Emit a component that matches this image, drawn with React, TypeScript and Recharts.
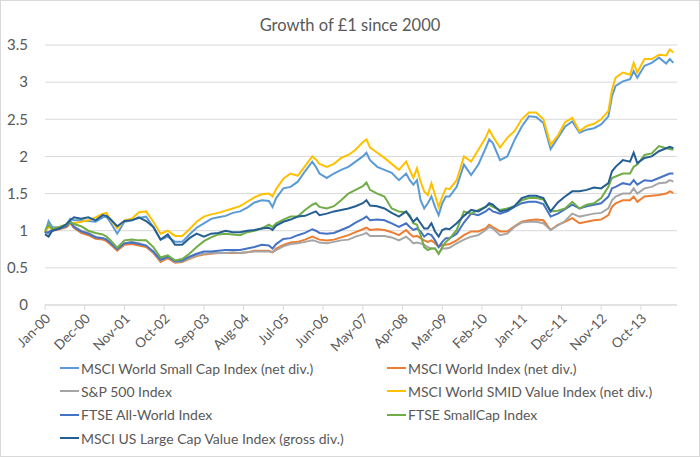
import React from 'react';
import { LineChart, Line, XAxis, YAxis, CartesianGrid } from 'recharts';

// month index since Jan-00 (mostly every 2nd month, plus a few turning points)
const months = [
  0, 1, 2, 4, 6, 7, 8, 10, 12, 14,
  16, 17, 18, 20, 22, 24, 26, 28, 30, 32,
  34, 36, 38, 40, 42, 44, 46, 48, 50, 52,
  54, 56, 58, 60, 62, 63, 64, 66, 68, 70,
  72, 74, 75, 76, 78, 80, 82, 84, 86, 88,
  89, 90, 92, 94, 96, 98, 100, 101, 102, 103,
  104, 105, 106, 107, 108, 109, 110, 111, 112, 114,
  116, 118, 120, 122, 123, 124, 126, 128, 130, 132,
  134, 136, 138, 140, 142, 144, 146, 148, 150, 152,
  154, 156, 157, 158, 160, 162, 163, 164, 166, 168,
  170, 172, 173, 174,
];

const smallCap = [
  0.97, 1.13, 1.05, 1.04, 1.09, 1.16, 1.14, 1.14, 1.13, 1.12,
  1.18, 1.19, 1.12, 0.96, 1.12, 1.14, 1.17, 1.19, 1.05, 0.88,
  0.92, 0.85, 0.85, 0.95, 1.04, 1.1, 1.16, 1.18, 1.2, 1.24,
  1.26, 1.31, 1.38, 1.41, 1.4, 1.32, 1.44, 1.57, 1.59, 1.66,
  1.8, 1.93, 1.86, 1.77, 1.71, 1.77, 1.82, 1.86, 1.93, 2.0,
  2.05, 1.95, 1.86, 1.82, 1.78, 1.68, 1.77, 1.68, 1.62, 1.68,
  1.41, 1.3, 1.37, 1.46, 1.32, 1.21, 1.37, 1.46, 1.46, 1.59,
  1.89, 1.75, 1.89, 2.11, 2.23, 2.18, 1.95, 2.0, 2.22, 2.4,
  2.54, 2.53, 2.45, 2.1, 2.25, 2.4, 2.47, 2.32, 2.36, 2.38,
  2.43, 2.54, 2.81, 2.95, 3.01, 3.04, 3.15, 3.06, 3.22, 3.26,
  3.33, 3.25, 3.31, 3.26,
];

const world = [
  0.97, 0.97, 1.0, 1.02, 1.05, 1.1, 1.04, 0.97, 0.94, 0.89,
  0.88, 0.86, 0.82, 0.73, 0.81, 0.82, 0.8, 0.78, 0.7, 0.58,
  0.63, 0.57, 0.58, 0.62, 0.66, 0.68, 0.69, 0.7, 0.7, 0.7,
  0.7, 0.71, 0.73, 0.73, 0.73, 0.71, 0.76, 0.81, 0.84, 0.85,
  0.88, 0.92, 0.9, 0.88, 0.87, 0.88, 0.91, 0.94, 0.98, 1.02,
  1.04, 1.01, 1.02, 1.01, 0.98, 0.94, 1.01, 0.96, 0.92, 0.93,
  0.9, 0.87, 0.85, 0.87, 0.83, 0.78, 0.81, 0.81, 0.82, 0.87,
  0.94, 0.99, 0.99, 1.03, 1.08, 1.05, 0.99, 0.99, 1.06, 1.12,
  1.14, 1.15, 1.14, 1.01, 1.08, 1.12, 1.17, 1.1, 1.12, 1.14,
  1.15, 1.21, 1.32, 1.37, 1.41, 1.41, 1.46, 1.39, 1.46, 1.47,
  1.48, 1.5, 1.53, 1.51,
];

const sp500 = [
  0.97, 0.96, 1.0, 1.03, 1.06, 1.12, 1.06, 1.0, 0.97, 0.92,
  0.9, 0.88, 0.84, 0.75, 0.83, 0.85, 0.83, 0.8, 0.71, 0.6,
  0.65, 0.58, 0.59, 0.63, 0.67, 0.69, 0.7, 0.7, 0.7, 0.71,
  0.7, 0.71, 0.72, 0.72, 0.72, 0.71, 0.74, 0.79, 0.82, 0.83,
  0.85, 0.87, 0.86, 0.84, 0.83, 0.85, 0.87, 0.88, 0.92, 0.95,
  0.97, 0.93, 0.93, 0.93, 0.91, 0.87, 0.92, 0.88, 0.83, 0.84,
  0.83, 0.81, 0.78, 0.76, 0.76, 0.69, 0.76, 0.76, 0.77, 0.83,
  0.88, 0.92, 0.94, 1.01, 1.05, 1.03, 0.94, 0.96, 1.05, 1.11,
  1.12, 1.12, 1.1, 1.01, 1.07, 1.13, 1.23, 1.19, 1.21, 1.23,
  1.24, 1.3, 1.41, 1.46, 1.5, 1.5, 1.57, 1.5, 1.57, 1.59,
  1.64, 1.65, 1.68, 1.66,
];

const smidValue = [
  0.98, 1.05, 1.02, 1.05, 1.08, 1.1, 1.1, 1.12, 1.14, 1.18,
  1.23, 1.24, 1.16, 1.03, 1.14, 1.16, 1.25, 1.26, 1.12, 0.96,
  1.0, 0.93, 0.93, 1.02, 1.12, 1.19, 1.22, 1.24, 1.27, 1.3,
  1.33, 1.39, 1.45, 1.49, 1.5, 1.46, 1.56, 1.7, 1.77, 1.74,
  1.87, 2.0, 1.96, 1.9, 1.86, 1.9, 1.98, 2.02, 2.09, 2.19,
  2.23, 2.12, 2.05, 1.98, 1.9, 1.82, 1.93, 1.82, 1.71, 1.84,
  1.66, 1.53, 1.48, 1.64, 1.48, 1.32, 1.46, 1.57, 1.56, 1.68,
  2.0, 1.93, 2.09, 2.25, 2.36, 2.27, 2.12, 2.25, 2.34, 2.5,
  2.59, 2.59, 2.5, 2.16, 2.28, 2.46, 2.52, 2.34, 2.41, 2.44,
  2.5, 2.61, 2.9, 3.06, 3.13, 3.1, 3.26, 3.13, 3.31, 3.31,
  3.37, 3.36, 3.44, 3.4,
];

const allWorld = [
  0.98, 0.98, 1.01, 1.03, 1.06, 1.12, 1.05, 0.99, 0.96, 0.91,
  0.9, 0.88, 0.84, 0.75, 0.83, 0.84, 0.82, 0.8, 0.72, 0.61,
  0.65, 0.59, 0.6, 0.65, 0.69, 0.72, 0.72, 0.73, 0.74, 0.74,
  0.74, 0.76, 0.78, 0.81, 0.8, 0.76, 0.82, 0.89, 0.9, 0.94,
  0.97, 1.02, 1.0, 0.97, 0.96, 0.97, 1.01, 1.05, 1.11, 1.16,
  1.19, 1.14, 1.15, 1.14, 1.1, 1.05, 1.1, 1.05, 1.01, 1.03,
  0.99, 0.92, 0.96, 0.94, 0.87, 0.78, 0.85, 0.9, 0.9, 0.96,
  1.11, 1.23, 1.21, 1.26, 1.3, 1.26, 1.23, 1.26, 1.32, 1.37,
  1.39, 1.39, 1.36, 1.19, 1.23, 1.29, 1.35, 1.3, 1.33, 1.35,
  1.37, 1.46, 1.57, 1.59, 1.64, 1.62, 1.68, 1.62, 1.68, 1.67,
  1.71, 1.75, 1.77, 1.77,
];

const ftseSmall = [
  1.0, 1.08, 1.02, 1.05, 1.08, 1.12, 1.09, 1.06, 1.0, 0.97,
  0.95, 0.92, 0.88, 0.77, 0.87, 0.88, 0.87, 0.87, 0.78, 0.64,
  0.67, 0.6, 0.62, 0.69, 0.78, 0.86, 0.91, 0.95, 0.96, 0.95,
  0.94, 0.98, 1.0, 1.03, 1.08, 1.05, 1.1, 1.15, 1.19, 1.19,
  1.28, 1.35, 1.37, 1.32, 1.3, 1.33, 1.41, 1.5, 1.55, 1.6,
  1.65, 1.55, 1.5, 1.46, 1.3, 1.26, 1.25, 1.21, 1.1, 1.08,
  0.94, 0.78, 0.74, 0.76, 0.76, 0.69, 0.78, 0.85, 0.89, 1.01,
  1.26, 1.23, 1.28, 1.32, 1.35, 1.32, 1.28, 1.3, 1.33, 1.41,
  1.44, 1.44, 1.42, 1.26, 1.27, 1.3, 1.39, 1.3, 1.35, 1.37,
  1.44, 1.59, 1.71, 1.73, 1.77, 1.77, 1.86, 1.89, 2.02, 2.04,
  2.14, 2.11, 2.1, 2.09,
];

const usValue = [
  0.95, 0.92, 1.0, 1.03, 1.09, 1.14, 1.18, 1.16, 1.18, 1.14,
  1.21, 1.2, 1.16, 1.06, 1.13, 1.14, 1.18, 1.13, 1.05, 0.88,
  0.95, 0.81, 0.81, 0.9, 0.96, 0.92, 0.96, 0.97, 1.0, 0.98,
  0.98, 1.0, 1.01, 1.03, 1.04, 1.01, 1.07, 1.12, 1.15, 1.19,
  1.2, 1.24, 1.26, 1.21, 1.23, 1.26, 1.28, 1.3, 1.33, 1.37,
  1.41, 1.34, 1.33, 1.3, 1.24, 1.19, 1.26, 1.19, 1.12, 1.17,
  1.1, 1.03, 1.03, 1.1, 0.99, 0.92, 1.01, 1.03, 1.02, 1.1,
  1.2, 1.28, 1.26, 1.32, 1.37, 1.35, 1.26, 1.28, 1.33, 1.44,
  1.47, 1.47, 1.44, 1.26, 1.38, 1.46, 1.53, 1.53, 1.55, 1.58,
  1.57, 1.64, 1.8, 1.86, 1.95, 1.93, 2.05, 1.91, 1.98, 2.0,
  2.07, 2.11, 2.13, 2.11,
];

const tickMonths = [0, 11, 22, 33, 44, 55, 66, 77, 88, 99, 110, 121, 132, 143, 154, 165];
const tickLabels = [
  'Jan-00', 'Dec-00', 'Nov-01', 'Oct-02', 'Sep-03', 'Aug-04', 'Jul-05', 'Jun-06',
  'May-07', 'Apr-08', 'Mar-09', 'Feb-10', 'Jan-11', 'Dec-11', 'Nov-12', 'Oct-13',
];
const yTicks = [0, 0.5, 1, 1.5, 2, 2.5, 3, 3.5];

const series = [
  { key: 'smallCap', name: 'MSCI World Small Cap Index (net div.)', color: '#5B9BD5', values: smallCap },
  { key: 'world', name: 'MSCI World Index (net div.)', color: '#ED7D31', values: world },
  { key: 'sp500', name: 'S&P 500 Index', color: '#A5A5A5', values: sp500 },
  { key: 'smidValue', name: 'MSCI World SMID Value Index (net div.)', color: '#FFC000', values: smidValue },
  { key: 'allWorld', name: 'FTSE All-World Index', color: '#4472C4', values: allWorld },
  { key: 'ftseSmall', name: 'FTSE SmallCap Index', color: '#70AD47', values: ftseSmall },
  { key: 'usValue', name: 'MSCI US Large Cap Value Index (gross div.)', color: '#255E91', values: usValue },
];

const rows = months.map((m, i) => {
  const row: Record<string, number> = { m };
  series.forEach(s => { row[s.key] = s.values[i]; });
  return row;
});

const TEXT = '#595959';

const MonthTick = ({ x, y, payload }: any) => {
  const label = tickLabels[tickMonths.indexOf(payload.value)];
  const ax = x + 3;
  const ay = y + 6;
  return (
    <text x={ax} y={ay} dy="0.35em" textAnchor="end" fill={TEXT} fontSize={13.5}
      transform={`rotate(-45 ${ax} ${ay})`}>
      {label}
    </text>
  );
};

const App: React.FC = () => {
  return (
    <div style={{ position: 'absolute', left: 0, top: 0, width: 700, height: 457, background: '#fff', fontFamily: 'Lato, "Open Sans", sans-serif' }}>
      <div style={{ position: 'absolute', left: 0, top: 14, width: 700, textAlign: 'center', fontSize: 16.5, lineHeight: '22px', color: TEXT }}>
        Growth of £1 since 2000
      </div>

      <LineChart width={700} height={457} data={rows} margin={{ top: 45, right: 23, left: 0, bottom: 102 }}>
        <CartesianGrid vertical={false} stroke="#d9d9d9" />
        <XAxis
          dataKey="m"
          type="number"
          domain={[0, 175]}
          ticks={tickMonths}
          interval={0}
          height={50}
          axisLine={{ stroke: '#d9d9d9' }}
          tickLine={{ stroke: '#d9d9d9' }}
          tickSize={5}
          tickMargin={0}
          tick={<MonthTick />}
        />
        <YAxis
          domain={[0, 3.5]}
          ticks={yTicks}
          width={45}
          axisLine={false}
          tickLine={false}
          tickMargin={11}
          tick={{ fill: TEXT, fontSize: 15 }}
        />
        {series.map(s => (
          <Line
            key={s.key}
            dataKey={s.key}
            name={s.name}
            type="linear"
            stroke={s.color}
            strokeWidth={2}
            dot={false}
            isAnimationActive={false}
          />
        ))}
      </LineChart>

      {/* legend, two columns like the Excel original */}
      {series.map((s, i) => {
        const col = i % 2;
        const row = Math.floor(i / 2);
        const left = col === 0 ? 60 : 387;
        const top = 368 + row * 23.4;
        return (
          <div key={s.key} style={{ position: 'absolute', left, top: top - 9, height: 18, display: 'flex', alignItems: 'center', whiteSpace: 'nowrap' }}>
            <span style={{ display: 'inline-block', width: 19, height: 2, background: s.color, marginRight: 2 }} />
            <span style={{ fontSize: 14, color: TEXT }}>{s.name}</span>
          </div>
        );
      })}

      <div style={{ position: 'absolute', left: 0, top: 0, width: 700, height: 457, boxSizing: 'border-box', border: '1px solid #d9d9d9', pointerEvents: 'none' }} />
    </div>
  );
};

export default App;
